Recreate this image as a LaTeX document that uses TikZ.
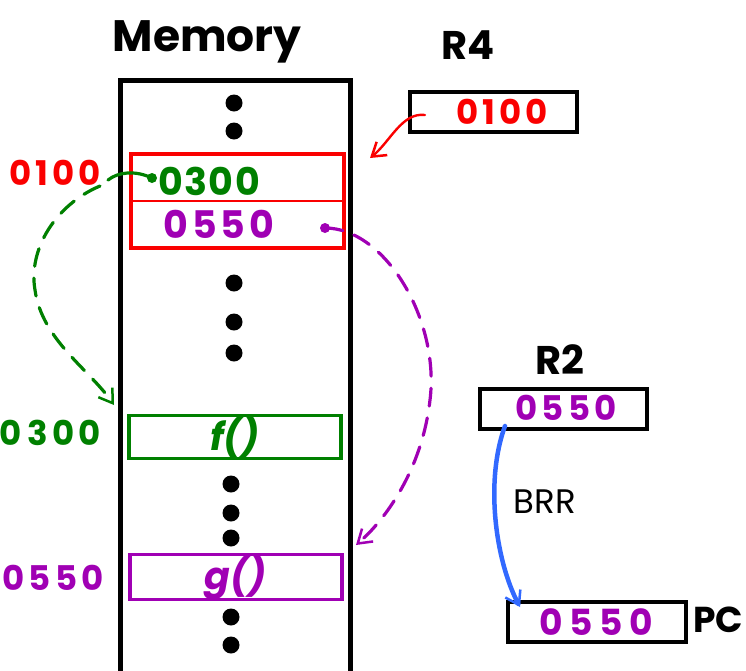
\documentclass[tikz,border=0pt]{standalone}
\usepackage{fontspec}
\setmainfont{Poppins}
\usetikzlibrary{arrows.meta}
\definecolor{mred}{RGB}{250,0,0}
\definecolor{mgreen}{RGB}{0,128,0}
\definecolor{mpurple}{RGB}{160,0,180}
\definecolor{mblue}{RGB}{50,105,255}
\newcommand\handsize[1]{\fontsize{#1}{#1}\selectfont}
\newcommand\spaced[1]{\addfontfeatures{LetterSpace=#1}}
\begin{document}
\begin{tikzpicture}[x=1pt,y=-1pt,
  regbox/.style={draw=black,line width=4pt,minimum width=167pt,minimum height=40pt,inner sep=0pt},
  cellbox/.style={draw=#1,line width=3.5pt,minimum width=212pt,minimum height=43pt,inner sep=0pt},
  memdot/.style={circle,fill=black,minimum size=17pt,inner sep=0pt},
  title/.style={font=\handsize{44}\bfseries},
  regname/.style={font=\handsize{40}\bfseries},
  digits/.style={font=\handsize{38}\bfseries\spaced{4}},
  smalldigits/.style={font=\handsize{34}\bfseries\spaced{12}},
  tip/.style={-{Straight Barb[length=13pt,width=17pt,line width=2.5pt]}},
  wire/.style={line width=3.2pt,line cap=round},
  dashwire/.style={wire,dash pattern=on 18pt off 12pt},
]
\useasboundingbox (0,0) rectangle (746,670);

% memory column
\draw[line width=5pt] (120,675) -- (120,80) -- (350,80) -- (350,675);
\node[title] (memtitle) at (207,42) {Memory};

% ellipsis dots down the column
\foreach \n/\x/\y in {a/234/103,b/234/131,c/234/283,d/234/322,e/234/353,
                      f/231/484,g/231/513,h/231/538,i/231/617,j/231/645}
  \node[memdot] (dot\n) at (\x,\y) {};

% pointer slot at 0100
\node[draw=mred,line width=3.5pt,minimum width=213pt,minimum height=94pt,inner sep=0pt] (slot) at (237.5,201) {};
\draw[mred,line width=2.2pt] (slot.west |- 0,201) -- (slot.east |- 0,201);
\node[digits,text=mgreen] (ptrf) at (209,181) {0300};
\node[digits,text=mpurple,font=\handsize{38}\bfseries\spaced{10}] (ptrg) at (219,224) {0550};
\node[smalldigits,text=mred] (addrslot) at (55,173) {0100};

% function entries
\node[cellbox=mgreen,font=\handsize{38}\bfseries\itshape,text=mgreen] (fbox) at (235,437) {f()};
\node[cellbox=mpurple,font=\handsize{38}\bfseries\itshape,text=mpurple] (gbox) at (236,577) {g()};
\node[smalldigits,text=mgreen] (addrf) at (50,433) {0\,300};
\node[smalldigits,text=mpurple] (addrg) at (53,578) {0550};

% registers
\node[regname] (r4name) at (468,45) {R4};
\node[regbox] (r4) at (493.5,112) {};
\node[smalldigits,text=mred] (r4val) at (502,112) {0100};

\node[regname] (r2name) at (560,360) {R2};
\node[regbox] (r2) at (563.5,409) {};
\node[smalldigits,text=mpurple] (r2val) at (566,408) {0550};

\node[regbox,minimum width=178pt] (pc) at (597,622) {};
\node[smalldigits,text=mpurple,font=\handsize{36}\bfseries\spaced{18}] (pcval) at (596,622) {0550};
\node[font=\handsize{36}\bfseries] (pcname) at (718,620) {PC};
\node[font=\handsize{34}] (brr) at (545,502) {BRR};

% connector anchors
\coordinate (r4src) at (425,115);
\coordinate (slotin) at (370,158);
\coordinate (fsrc) at (152,178);
\coordinate (fbend) at (108,180);
\coordinate (fdash) at (100,186);
\coordinate (fin) at (114,405);
\coordinate (gsrc) at (325,228);
\coordinate (gin) at (356,545);
\coordinate (r2src) at (505,426);
\coordinate (pcin) at (520,607);

% R4 points into the slot
\draw[mred,line width=2.4pt,line cap=round,tip] (r4src) .. controls (402,112) and (390,142) .. (slotin);

% slot word 0300 leads to f()
\fill[mgreen] (fsrc) circle (5pt);
\draw[mgreen,wire] (fsrc) .. controls (135,170) and (118,172) .. (fbend);
\draw[mgreen,dashwire,tip] (fdash) .. controls (55,205) and (28,250) .. (35,290)
  .. controls (42,340) and (90,370) .. (fin);

% slot word 0550 leads to g()
\fill[mpurple] (gsrc) circle (5pt);
\draw[mpurple,dashwire,tip] (gsrc) .. controls (385,228) and (440,320) .. (430,400)
  .. controls (422,470) and (385,520) .. (gin);

% branch through R2 into the program counter
\draw[mblue,line width=4.5pt,line cap=round,tip] (r2src) .. controls (485,480) and (495,560) .. (pcin);
\end{tikzpicture}
\end{document}
